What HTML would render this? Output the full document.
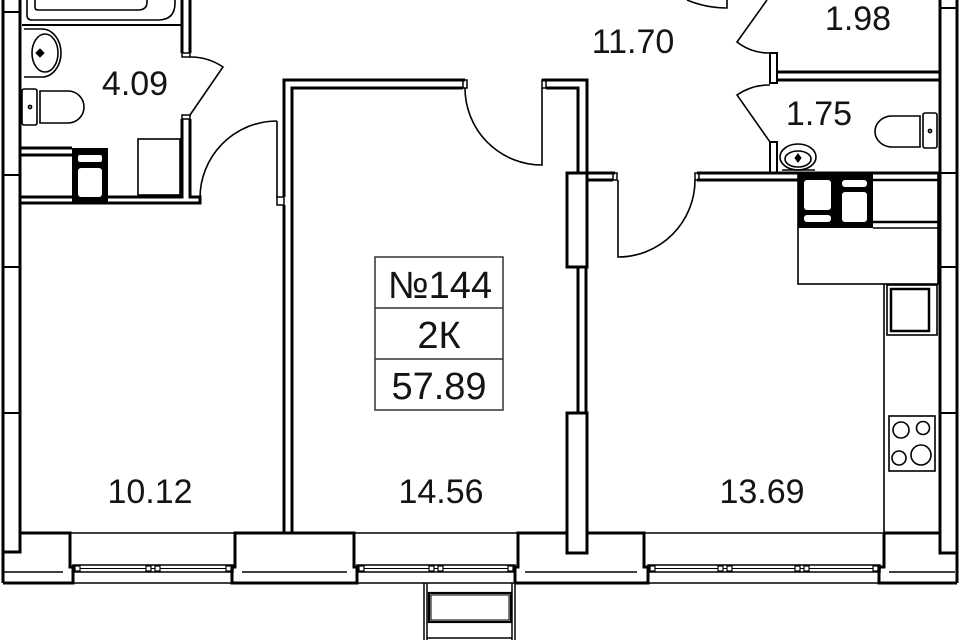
<!DOCTYPE html>
<html><head><meta charset="utf-8"><style>
html,body{margin:0;padding:0;background:#fff;}
svg{display:block;}
text{font-family:"Liberation Sans","DejaVu Sans",sans-serif;fill:#141414;}
</style></head><body>
<svg width="960" height="640" viewBox="0 0 960 640" xmlns="http://www.w3.org/2000/svg">
<rect width="960" height="640" fill="#fff"/>
<g fill="none" stroke="#000" stroke-width="3" stroke-linejoin="miter">
<!-- left outer wall -->
<path d="M3,0 V583"/>
<path d="M20,0 V552 H3"/>
<g stroke-width="2"><path d="M3,12 H20 M3,175 H20 M3,267 H20 M3,413 H20"/></g>
<!-- left pier -->
<path d="M20,533 H70 V567 H73 V583 H3"/>
<path d="M3,572 H63" stroke-width="1.5"/>
<!-- sills & bottoms -->
<g stroke-width="1.5">
<path d="M70,533 H235 M354,533 H518 M644,533 H884"/>
<path d="M73,583 H232 M357,583 H515 M648,583 H879"/>
</g>
<!-- middle pier -->
<path d="M232,583 V567 H235 V533 H354 V567 H357 V583 Z"/>
<path d="M242,572 H347" stroke-width="1.5"/>
<!-- pier 3 -->
<path d="M515,583 V567 H518 V533 H567"/>
<path d="M587,533 H644 V567 H648 V583 H515"/>
<path d="M525,572 H637" stroke-width="1.5"/>
<!-- right pier & wall -->
<path d="M884,533 H940"/>
<path d="M884,533 V567 H879 V583 H957"/>
<path d="M940,0 V553 H957"/>
<path d="M957,0 V583"/>
<g stroke-width="2"><path d="M940,8 H957 M940,173 H957 M940,267 H957 M940,413 H957"/></g>
<path d="M889,572 H955" stroke-width="1.5"/>

<!-- windows -->
<g stroke-width="1.5">
<rect x="73" y="565" width="160" height="7"/>
<rect x="357" y="565" width="158" height="7"/>
<rect x="648" y="565" width="232" height="7"/>
</g>
<g stroke-width="1">
<path d="M78,568.5 H228 M362,568.5 H510 M653,568.5 H875"/>
</g>
<g stroke-width="1.2" fill="#fff">
<rect x="75" y="566" width="5" height="5"/><rect x="146" y="566" width="5" height="5"/>
<rect x="155" y="566" width="5" height="5"/><rect x="226" y="566" width="5" height="5"/>
<rect x="359" y="566" width="5" height="5"/><rect x="429" y="566" width="5" height="5"/>
<rect x="438" y="566" width="5" height="5"/><rect x="508" y="566" width="5" height="5"/>
<rect x="650" y="566" width="5" height="5"/><rect x="718" y="566" width="5" height="5"/>
<rect x="727" y="566" width="5" height="5"/><rect x="795" y="566" width="5" height="5"/>
<rect x="804" y="566" width="5" height="5"/><rect x="873" y="566" width="5" height="5"/>
</g>

<!-- balcony -->
<g stroke-width="1.5">
<path d="M424,583 V640 M427,583 V640 M512,583 V640 M515,583 V640"/>
<path d="M427,638 H512"/>
<rect x="431" y="595" width="78" height="25" stroke-width="1"/>
</g>
<rect x="429" y="593" width="82" height="29" stroke-width="2.2"/>

<!-- partition 10.12 / 14.56 and top of 14.56 -->
<path d="M465,80 H284 V197"/>
<path d="M284,205 V533"/>
<path d="M463,88 H292 V533"/>
<rect x="277" y="197" width="7" height="8" stroke-width="1.5"/>
<rect x="463" y="80" width="4" height="8" stroke-width="1.5"/>
<path d="M542,80 H587 V173"/>
<path d="M546,88 H578 V173"/>
<rect x="542" y="80" width="4" height="8" stroke-width="1.5"/>
<!-- partition 14.56 / 13.69 -->
<rect x="567" y="173" width="20" height="94"/>
<path d="M578,267 V413 M586,267 V413"/>
<rect x="567" y="413" width="20" height="140"/>
<!-- kitchen top walls -->
<path d="M587,173 H615 M587,180 H613"/>
<rect x="613" y="173" width="4" height="7" stroke-width="1.5"/>
<path d="M697,173 H940 M697,180 H798"/>
<rect x="695" y="173" width="4" height="7" stroke-width="1.5"/>
<!-- small baths walls -->
<rect x="770" y="142" width="7" height="31" stroke-width="2"/>
<rect x="770" y="53" width="7" height="30" stroke-width="2"/>
<path d="M777,72 H940 M777,80 H940"/>

<!-- bathroom 4.09 walls -->
<path d="M182,0 V53 M190,0 V53"/>
<rect x="182" y="53" width="8" height="4" stroke-width="1.5"/>
<rect x="182" y="115" width="8" height="4" stroke-width="1.5"/>
<path d="M190,119 V197 H200 V203 H20"/>
<path d="M182,119 V197 H108"/>
<path d="M20,197 H72"/>
<path d="M20,148 H72 M20,155 H72"/>

<!-- doors -->
<g stroke-width="1.6">
<path d="M190,57 A58,58 0 0 1 223,67 L190,115"/>
<path d="M277,121 V198 M277,121 A77,77 0 0 0 200,198"/>
<path d="M542,88 V165 A77,77 0 0 1 465,88"/>
<path d="M618,180 V257 A77,77 0 0 0 695,180"/>
<path d="M687,0 A104,104 0 0 0 727,8 V0"/>
<path d="M767,0 L737,42 A53,53 0 0 0 770,53"/>
<path d="M770,85 A57,57 0 0 0 737,95 L770,142"/>
</g>

<!-- bathtub -->
<g stroke-width="1.6">
<path d="M27,0 V15 Q27,20 32,20 H158 Q175,20 175,3 V0"/>
<path d="M35,0 V7 Q35,10 38,10 H138 Q147,10 147,2 V0"/>
</g>
<path d="M22,25 H182" stroke-width="2"/>
<!-- washbasin 4.09 -->
<g stroke-width="1.6">
<path d="M24,29 H42 A19,24 0 0 1 42,77 H24"/>
<ellipse cx="45" cy="53" rx="13" ry="19"/>
<path d="M40,49 L44,53 L40,57 L36,53 Z" fill="#000" stroke-width="1"/>
<!-- toilet 4.09 -->
<rect x="22" y="89" width="15" height="36" rx="2"/>
<path d="M40,91 H68 A16,16 0 0 1 68,123 H40 Z"/>
<circle cx="30" cy="107" r="1.6"/>
<!-- washing machine -->
<rect x="138" y="139" width="42" height="56"/>
</g>
<rect x="72" y="148" width="36" height="55" fill="#000" stroke="none"/>
<rect x="78" y="155" width="24" height="7" rx="2" fill="#fff" stroke="none"/>
<rect x="78" y="168" width="24" height="29" rx="3" fill="#fff" stroke="none"/>

<!-- bath 1.75 fixtures -->
<g stroke-width="1.6">
<rect x="923" y="113" width="14" height="35" rx="2"/>
<path d="M920,116 H892 A17,15.5 0 0 0 892,147 H920 Z"/>
<circle cx="930" cy="131" r="1.6"/>
<ellipse cx="798" cy="157" rx="18" ry="13"/>
<ellipse cx="798" cy="159" rx="13" ry="8"/>
<path d="M782,170 H815"/>
<path d="M798,154 L801,158 L798,162 L795,158 Z" fill="#000" stroke-width="1"/>
</g>

<!-- kitchen -->
<g stroke-width="1.6">
<rect x="798" y="173" width="140" height="111"/>
<path d="M884,284 V533"/>
<rect x="887" y="285" width="50" height="50"/>
<rect x="889" y="416" width="46" height="55"/>
<circle cx="901" cy="430" r="8"/>
<circle cx="923" cy="428" r="6.5"/>
<circle cx="899" cy="458" r="7"/>
<circle cx="921" cy="455" r="10"/>
<path d="M873,228 H938"/>
</g>
<path d="M873,180 H940 M873,222 H940" stroke-width="2.5"/>
<rect x="891" y="289" width="38" height="42" stroke-width="2.5"/>
<rect x="798" y="173" width="75" height="55" fill="#000" stroke="none"/>
<rect x="804" y="180" width="27" height="30" rx="3" fill="#fff" stroke="none"/>
<rect x="804" y="215" width="27" height="7" rx="3" fill="#fff" stroke="none"/>
<rect x="842" y="180" width="25" height="7" rx="3" fill="#fff" stroke="none"/>
<rect x="842" y="192" width="25" height="30" rx="3" fill="#fff" stroke="none"/>

<!-- label box -->
<rect x="375" y="257" width="128" height="153" stroke="#333" stroke-width="1.5"/>
<path d="M375,308 H503 M375,359 H503" stroke="#333" stroke-width="1.5"/>
</g>

<g font-size="34" text-anchor="middle">
<text x="135" y="95">4.09</text>
<text x="633" y="53">11.70</text>
<text x="858" y="30">1.98</text>
<text x="819" y="125">1.75</text>
<text x="150" y="503">10.12</text>
<text x="441" y="503">14.56</text>
<text x="762" y="503">13.69</text>
</g>
<g font-size="38" text-anchor="middle">
<text x="440" y="298">№144</text>
<text x="439" y="348">2К</text>
<text x="439" y="399">57.89</text>
</g>
</svg>
</body></html>
